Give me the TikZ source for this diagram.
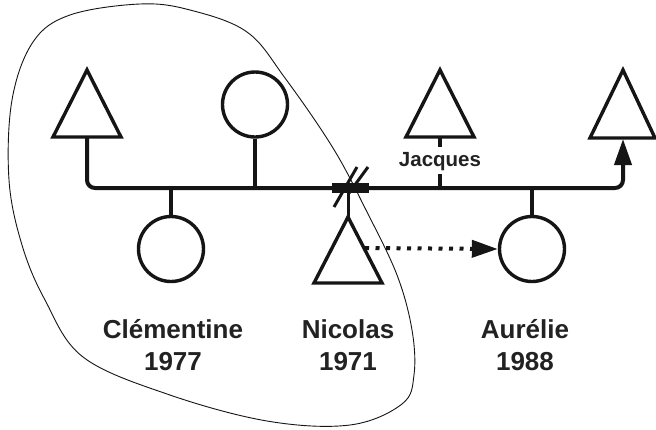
\documentclass[tikz,border=0pt]{standalone}
\usepackage{fontspec}
\setmainfont{Liberation Sans}
\usetikzlibrary{arrows.meta}
\definecolor{ink}{HTML}{151515}
\definecolor{txt}{HTML}{222222}
\begin{document}
\begin{tikzpicture}[x=1pt,y=-1pt,
  shp/.style={draw=ink, line width=3.4pt, line join=miter},
  circ/.style={shp, circle, minimum size=65pt, inner sep=0pt},
  conn/.style={draw=ink, line width=4pt},
  big/.style={font=\bfseries\fontsize{26}{32}\selectfont, text=txt, anchor=base, inner sep=0pt},
  small/.style={font=\bfseries\fontsize{20.5}{24}\selectfont, text=txt, anchor=base, inner sep=0pt},
  tip/.style={-{Triangle[length=26pt,width=17pt]}}]
\useasboundingbox (0,0) rectangle (656,429);
\fill[white] (0,0) rectangle (656,429);

% triangles (apex, base left, base right) and attachment coordinates
\draw[shp] (87,70) -- (121,137) -- (53,137) -- cycle;
\coordinate (t1b) at (87,137);
\draw[shp] (440,70) -- (474,137) -- (406,137) -- cycle;
\coordinate (t2b) at (440,137);
\draw[shp] (348,217) -- (382,283) -- (314,283) -- cycle;
\coordinate (t3a) at (348,217);
\coordinate (t3r) at (365,248);
\draw[shp] (623,70) -- (655,138) -- (590,138) -- cycle;
\coordinate (t4b) at (623,139);

% circles
\node[circ] (c1) at (255,104.5) {};
\node[circ] (c2) at (171,249) {};
\node[circ] (c3) at (532,249) {};

% main line
\coordinate (lineL) at (87,188);
\coordinate (lineR) at (623,188);
\draw[conn, rounded corners=8pt, tip] (t1b) |- (lineR) -- (t4b);
\draw[conn] (c1.south) -- (c1.south |- lineL);
\draw[conn] (c2.north) -- (c2.north |- lineL);
\draw[conn] (c3.north) -- (c3.north |- lineL);
\draw[conn, line width=3pt] (t3a) -- (t3a |- lineL);

% separation mark
\node[fill=ink, minimum width=37pt, minimum height=9.5pt, inner sep=0pt] (sep) at (350.5,188) {};
\draw[ink, line width=3pt] (334,207) -- (357,167);
\draw[ink, line width=3pt] (349,193) -- (368,167);

% Jacques: line interrupted by the label
\node[small] (jl) at (440,166) {Jacques};
\coordinate (jgapT) at (440,147);
\coordinate (jgapB) at (440,174);
\draw[conn, line width=3.4pt] (t2b) -- (jgapT);
\draw[conn, line width=3.4pt] (jgapB) -- (jgapB |- lineL);

% dotted arrow
\draw[conn, dash pattern=on 4pt off 6.5pt, tip] (t3r) -- (c3.west);

% labels
\node[big] (n1) at (173,338) {Clémentine};
\node[big] (n1y) at (173,370) {1977};
\node[big] (n2) at (348,338) {Nicolas};
\node[big] (n2y) at (348,370) {1971};
\node[big] (n3) at (525,338) {Aurélie};
\node[big] (n3y) at (525,370) {1988};

% enclosing outline
\draw[ink, line width=0.9pt] plot[smooth cycle, tension=0.6] coordinates {
 (140,4) (190,10) (247,32) (285,78) (333,148) (366,210) (397,275) (412,330)
 (414,375) (402,404) (350,425) (267,421) (167,394) (83,357) (45,300) (22,245)
 (9,180) (12,100) (33,42) (70,15)};
\end{tikzpicture}
\end{document}
